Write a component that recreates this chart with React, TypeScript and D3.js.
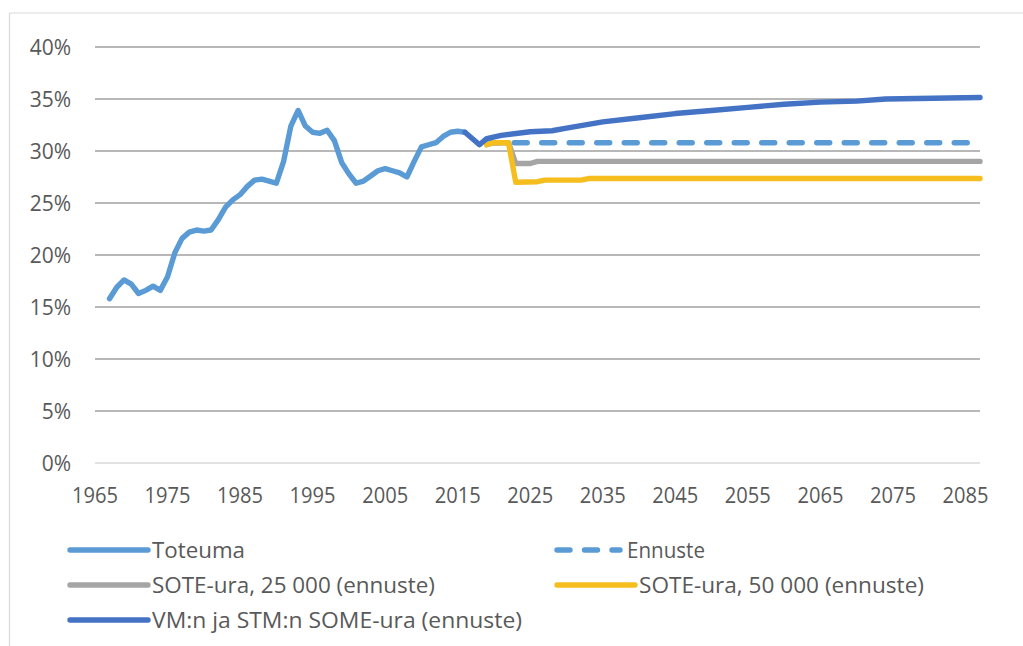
import React from "react";
import * as d3 from "d3";

// ---- Data (share of GDP, %) ----
const toteuma: [number, number][] = [
  [1967, 15.8], [1968, 16.9], [1969, 17.6], [1970, 17.2], [1971, 16.3], [1972, 16.6],
  [1973, 17.0], [1974, 16.6], [1975, 17.9], [1976, 20.2], [1977, 21.6], [1978, 22.2],
  [1979, 22.4], [1980, 22.3], [1981, 22.4], [1982, 23.4], [1983, 24.6], [1984, 25.3],
  [1985, 25.8], [1986, 26.6], [1987, 27.2], [1988, 27.3], [1989, 27.1], [1990, 26.9],
  [1991, 29.0], [1992, 32.4], [1993, 33.9], [1994, 32.4], [1995, 31.8], [1996, 31.7],
  [1997, 32.0], [1998, 31.0], [1999, 28.9], [2000, 27.8], [2001, 26.9], [2002, 27.1],
  [2003, 27.6], [2004, 28.1], [2005, 28.3], [2006, 28.1], [2007, 27.9], [2008, 27.5],
  [2009, 29.0], [2010, 30.4], [2011, 30.6], [2012, 30.8], [2013, 31.4], [2014, 31.8],
  [2015, 31.9], [2016, 31.8],
];
const ennuste: [number, number][] = [
  [2019, 30.8], [2086, 30.8],
];
const sote25: [number, number][] = [
  [2019, 30.6], [2020, 30.8], [2022, 30.8], [2023, 28.8], [2025, 28.8], [2026, 29.0], [2087, 29.0],
];
const sote50: [number, number][] = [
  [2019, 30.6], [2020, 30.8], [2022, 30.8], [2023, 27.0], [2026, 27.05], [2027, 27.2],
  [2032, 27.2], [2033, 27.35], [2087, 27.35],
];
const vmStm: [number, number][] = [
  [2016, 31.8], [2017, 31.2], [2018, 30.6], [2019, 31.2], [2021, 31.5], [2025, 31.85],
  [2028, 31.95], [2030, 32.2], [2035, 32.8], [2040, 33.2], [2045, 33.6], [2050, 33.9],
  [2055, 34.2], [2060, 34.5], [2065, 34.7], [2070, 34.8], [2074, 35.0], [2087, 35.15],
];

const xTicks = [1965, 1975, 1985, 1995, 2005, 2015, 2025, 2035, 2045, 2055, 2065, 2075, 2085];
const yTicks = [0, 5, 10, 15, 20, 25, 30, 35, 40];

const labels = {
  toteuma: "Toteuma",
  ennuste: "Ennuste",
  sote25: "SOTE-ura, 25 000 (ennuste)",
  sote50: "SOTE-ura, 50 000 (ennuste)",
  vmStm: "VM:n ja STM:n SOME-ura (ennuste)",
};

const C_LIGHT = "#5B9BD5";
const C_GRAY = "#A5A5A5";
const C_YELLOW = "#F5BE1E";
const C_DARK = "#4472C4";
const FONT = "'Open Sans', 'Noto Sans', sans-serif";
const DASH = "13 14.5";
const SW = 5.4;

export default function App() {
  const W = 1023, H = 646;
  const x = d3.scaleLinear().domain([1965, 2087]).range([95, 980]);
  const y = d3.scaleLinear().domain([0, 40]).range([463, 47]);
  const line = d3.line<[number, number]>().x((d) => x(d[0])).y((d) => y(d[1]));

  const series = [
    { data: toteuma, color: C_LIGHT, dash: undefined as string | undefined },
    { data: ennuste, color: C_LIGHT, dash: DASH },
    { data: sote25, color: C_GRAY, dash: undefined },
    { data: sote50, color: C_YELLOW, dash: undefined },
    { data: vmStm, color: C_DARK, dash: undefined },
  ];

  const legend = [
    { label: labels.toteuma, color: C_LIGHT, dash: undefined as string | undefined, lx: 70, ly: 550, tw: 93 },
    { label: labels.ennuste, color: C_LIGHT, dash: DASH, lx: 557, ly: 550, tw: 78 },
    { label: labels.sote25, color: C_GRAY, dash: undefined, lx: 70, ly: 585, tw: 283 },
    { label: labels.sote50, color: C_YELLOW, dash: undefined, lx: 557, ly: 585, tw: 285 },
    { label: labels.vmStm, color: C_DARK, dash: undefined, lx: 70, ly: 620, tw: 370 },
  ];

  return (
    <div style={{ position: "absolute", left: 0, top: 0 }}>
      <svg width={W} height={H} style={{ display: "block", background: "#fff" }} fontFamily={FONT}>
        <rect x={0} y={0} width={W} height={H} fill="#fff" />
        {/* chart border */}
        <line x1={9.5} y1={13} x2={W} y2={13} stroke="#d9d9d9" strokeWidth={1.2} />
        <line x1={9.5} y1={13} x2={9.5} y2={H} stroke="#d9d9d9" strokeWidth={1.2} />

        {/* gridlines */}
        {yTicks.map((t) => (
          <line
            key={"g" + t}
            x1={x(1965)}
            x2={x(2087)}
            y1={y(t)}
            y2={y(t)}
            stroke={t === 0 ? "#d9d9d9" : "#a0a0a0"}
            strokeWidth={1.5}
          />
        ))}
        {/* y labels */}
        {yTicks.map((t) => (
          <text key={"yl" + t} x={71} y={y(t)} dy="0.36em" textAnchor="end" fontSize={21} fill="#595959">
            {t + "%"}
          </text>
        ))}
        {/* x labels */}
        {xTicks.map((t) => (
          <text key={"xl" + t} x={x(t)} y={495} dy="0.36em" textAnchor="middle" fontSize={21} fill="#595959"
            textLength={46} lengthAdjust="spacingAndGlyphs">
            {t}
          </text>
        ))}

        {/* series */}
        {series.map((s, i) => (
          <path
            key={"s" + i}
            d={line(s.data) || ""}
            fill="none"
            stroke={s.color}
            strokeWidth={SW}
            strokeLinejoin="round"
            strokeLinecap="round"
            strokeDasharray={s.dash}
          />
        ))}

        {/* legend */}
        {legend.map((l, i) => (
          <g key={"lg" + i}>
            <line
              x1={l.lx}
              x2={l.lx + (l.dash ? 63 : 78)}
              y1={l.ly}
              y2={l.ly}
              stroke={l.color}
              strokeWidth={SW}
              strokeLinecap="round"
              strokeDasharray={l.dash}
            />
            <text
              x={l.lx + (l.dash ? 70 : 82)}
              y={l.ly}
              dy="0.36em"
              fontSize={21}
              fill="#595959"
              textLength={l.tw}
              lengthAdjust="spacingAndGlyphs"
            >
              {l.label}
            </text>
          </g>
        ))}
      </svg>
    </div>
  );
}
